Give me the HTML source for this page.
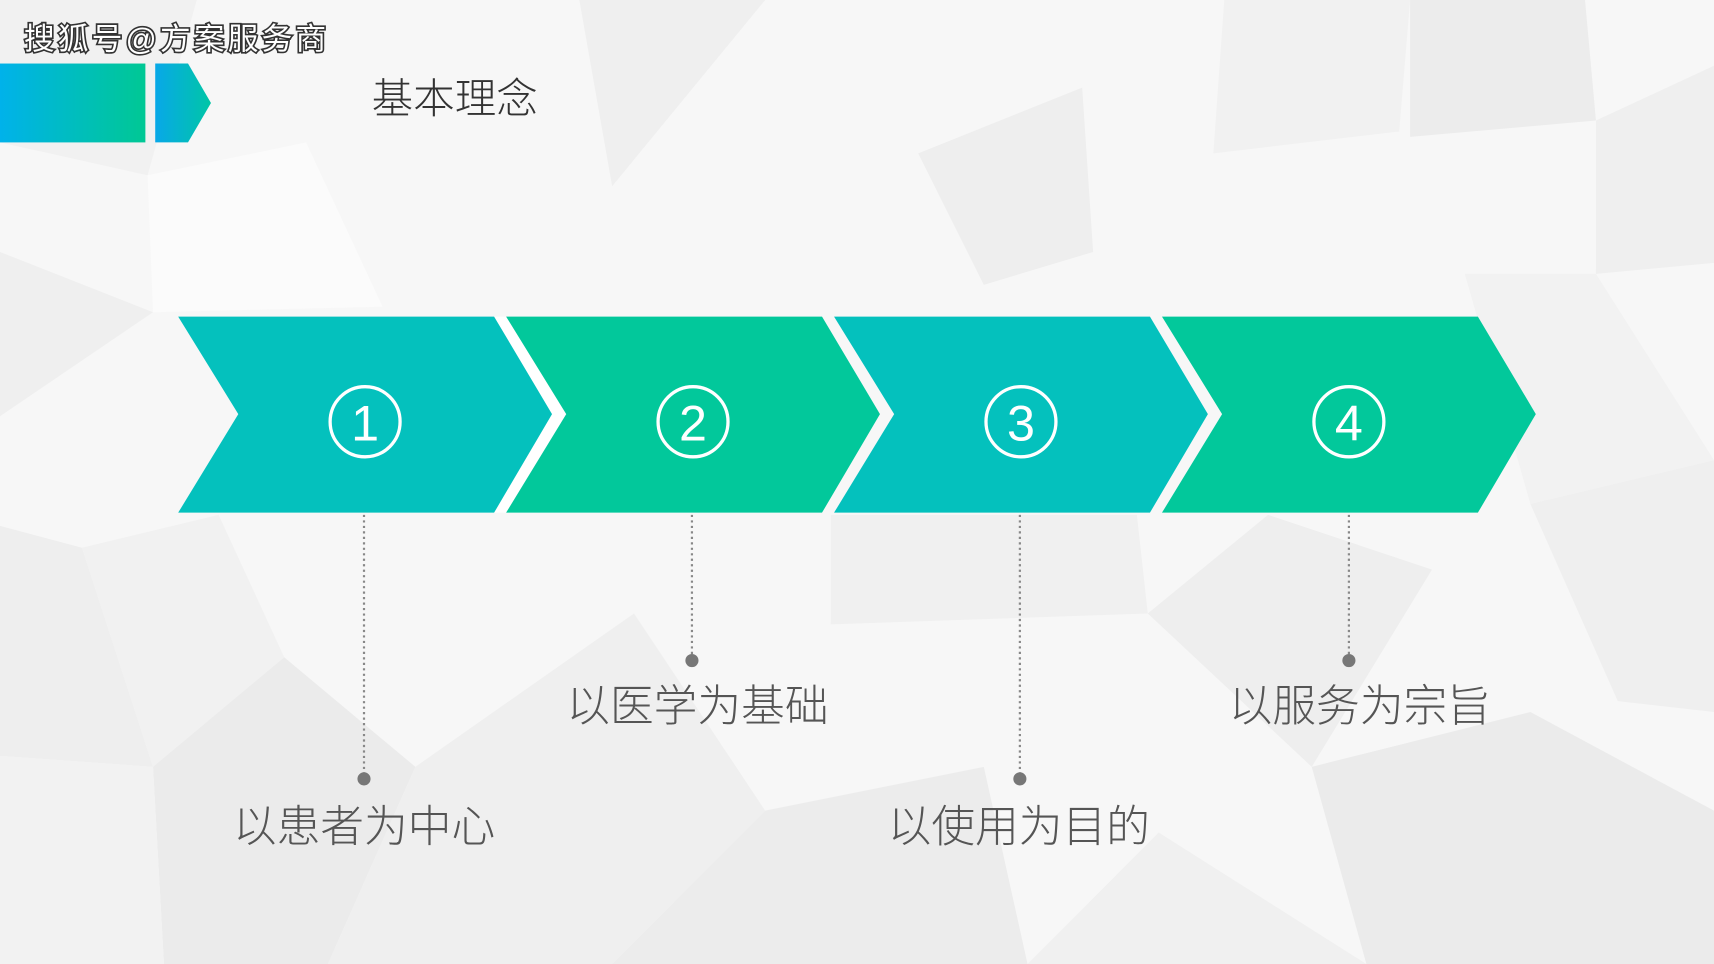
<!DOCTYPE html>
<html><head><meta charset="utf-8"><style>
html,body{margin:0;padding:0;background:#f7f7f7;}
svg{display:block;}
text{font-family:"Liberation Sans","Noto Sans CJK SC",sans-serif;}
</style></head><body>
<svg width="1714" height="964" viewBox="0 0 1568 880" preserveAspectRatio="none" xmlns="http://www.w3.org/2000/svg">
<defs>
<linearGradient id="g1" x1="0" x2="1" y1="0" y2="0"><stop offset="0" stop-color="#00b2ea"/><stop offset="1" stop-color="#00c894"/></linearGradient>
<linearGradient id="g2" x1="0" x2="1" y1="0" y2="0"><stop offset="0" stop-color="#08a8e8"/><stop offset="1" stop-color="#00c6a6"/></linearGradient>
</defs>
<rect width="1568" height="880" fill="#f7f7f7"/>
<g stroke="none">
<polygon points="0,0 180,0 135,160 0,130" fill="#f1f1f1"/>
<polygon points="530,0 700,0 560,170" fill="#efefef"/>
<polygon points="840,140 990,80 1000,230 900,260" fill="#eeeeee"/>
<polygon points="1120,0 1290,0 1280,120 1110,140" fill="#f1f1f1"/>
<polygon points="1290,0 1450,0 1460,110 1290,125" fill="#ececec"/>
<polygon points="1460,110 1568,60 1568,240 1460,250" fill="#efefef"/>
<polygon points="135,160 280,130 350,280 140,285" fill="#fbfbfb"/>
<polygon points="0,230 140,285 0,380" fill="#efefef"/>
<polygon points="0,480 75,500 140,700 0,690" fill="#eeeeee"/>
<polygon points="75,500 200,470 260,600 140,700" fill="#f1f1f1"/>
<polygon points="140,700 260,600 380,700 300,880 150,880" fill="#ebebeb"/>
<polygon points="0,690 140,700 150,880 0,880" fill="#f2f2f2"/>
<polygon points="380,700 580,560 700,740 560,880 300,880" fill="#efefef"/>
<polygon points="700,740 900,700 940,880 560,880" fill="#ececec"/>
<polygon points="760,470 1040,470 1050,560 760,570" fill="#f0f0f0"/>
<polygon points="1050,560 1160,470 1310,520 1200,700" fill="#eeeeee"/>
<polygon points="1200,700 1400,650 1568,740 1568,880 1250,880" fill="#ebebeb"/>
<polygon points="940,880 1060,760 1250,880" fill="#f0f0f0"/>
<polygon points="1400,460 1568,420 1568,650 1480,640" fill="#efefef"/>
<polygon points="1340,250 1460,250 1568,420 1400,460" fill="#f2f2f2"/>
</g>
<rect x="0" y="58" width="133" height="72" fill="url(#g1)"/>
<polygon points="142,58 172,58 193,94 172,130 142,130" fill="url(#g2)"/>
<text x="22" y="45" font-size="28" letter-spacing="3" fill="#fff" stroke="#333" stroke-width="3" paint-order="stroke">搜狐号@方案服务商</text>
<text x="340" y="103" font-size="38" font-weight="300" fill="#333">基本理念</text>
<polygon points="452,289 463,289 518,378 463,468 452,468 505,378" fill="#fff"/>
<polygon points="163,289 452,289 505,378 452,468 163,468 218,378" fill="#04c1bd"/>
<polygon points="463,289 752,289 805,378 752,468 463,468 518,378" fill="#02c89b"/>
<polygon points="763,289 1052,289 1105,378 1052,468 763,468 818,378" fill="#04c1bd"/>
<polygon points="1063,289 1352,289 1405,378 1352,468 1063,468 1118,378" fill="#02c89b"/>
<g fill="none" stroke="#fff" stroke-width="3">
<circle cx="334" cy="385" r="32"/><circle cx="634" cy="385" r="32"/><circle cx="934" cy="385" r="32"/><circle cx="1234" cy="385" r="32"/>
</g>
<g fill="#fff" font-size="46" text-anchor="middle">
<text x="334" y="402">1</text><text x="634" y="402">2</text><text x="934" y="402">3</text><text x="1234" y="402">4</text>
</g>
<g stroke="#888" stroke-width="2" stroke-dasharray="2,3">
<line x1="333" y1="470" x2="333" y2="710"/><line x1="633" y1="470" x2="633" y2="602"/><line x1="933" y1="470" x2="933" y2="710"/><line x1="1234" y1="470" x2="1234" y2="602"/>
</g>
<g fill="#777">
<circle cx="333" cy="711" r="6"/><circle cx="633" cy="603" r="6"/><circle cx="933" cy="711" r="6"/><circle cx="1234" cy="603" r="6"/>
</g>
<g fill="#555" font-size="40" font-weight="300" text-anchor="middle">
<text x="333" y="768">以患者为中心</text>
<text x="638" y="658">以医学为基础</text>
<text x="932" y="768">以使用为目的</text>
<text x="1244" y="658">以服务为宗旨</text>
</g>
</svg>
</body></html>
